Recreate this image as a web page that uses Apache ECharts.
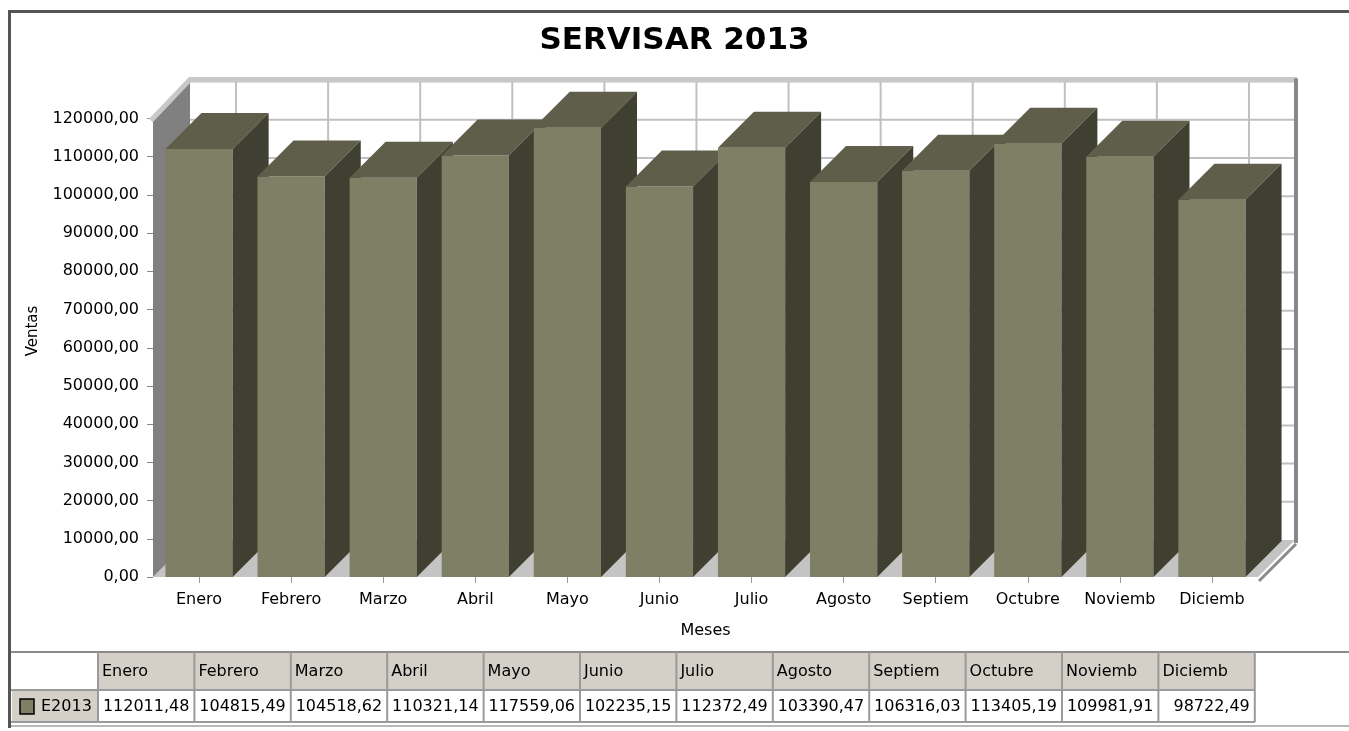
<!DOCTYPE html>
<html>
<head>
<meta charset="utf-8">
<title>SERVISAR 2013</title>
<script src="https://cdn.jsdelivr.net/npm/echarts@6/dist/echarts.min.js"></script>
<style>
  html, body { margin: 0; padding: 0; background: #fff; }
  #chart { width: 1349px; height: 731px; }
</style>
</head>
<body>
<div id="chart"></div>
<script>
  // datos
  var meses = ['Enero', 'Febrero', 'Marzo', 'Abril', 'Mayo', 'Junio', 'Julio', 'Agosto', 'Septiem', 'Octubre', 'Noviemb', 'Diciemb'];
  var ventas = [112011.48, 104815.49, 104518.62, 110321.14, 117559.06, 102235.15, 112372.49, 103390.47, 106316.03, 113405.19, 109981.91, 98722.49];
  var serieNombre = 'E2013';
  var yMin = 0, yMax = 120000, yPaso = 10000;

  var FONT = 'DejaVu Sans';
  var DEPTH = 37;      // profundidad de las paredes
  var BAR_DEPTH = 36;  // profundidad de las barras
  var colFrente = '#7f7f66', colTapa = '#5f5e4a', colLado = '#404032';

  function fmt(v) { return v.toFixed(2).replace('.', ','); }

  // caja 3d: paredes, piso y lineas de la pared del fondo
  function drawFrame(params, api) {
    var d = DEPTH;
    var p0 = api.coord([0, yMin]);
    var bw = api.size([1, 0])[0];
    var left = p0[0] - bw / 2;
    var right = left + bw * meses.length;
    var bottom = p0[1];
    var top = api.coord([0, yMax])[1];
    var ch = [];
    ch.push({ type: 'polygon', shape: { points: [[left, bottom], [right, bottom], [right + d, bottom - d], [left + d, bottom - d]] }, style: { fill: '#c4c4c4' } });
    ch.push({ type: 'polygon', shape: { points: [[left, bottom], [left, top + 1], [left + d, top - d - 2], [left + d, bottom - d]] }, style: { fill: '#808080' } });
    for (var v = yMin + yPaso; v <= yMax; v += yPaso) {
      var y = api.coord([0, v])[1] - d;
      ch.push({ type: 'line', shape: { x1: left + d, y1: y, x2: right + d, y2: y }, style: { stroke: '#c0c0c0', lineWidth: 2 } });
    }
    for (var i = 0; i < meses.length; i++) {
      var x = api.coord([i, 0])[0] + d;
      ch.push({ type: 'line', shape: { x1: x, y1: top - d - 2, x2: x, y2: bottom - d }, style: { stroke: '#c0c0c0', lineWidth: 2 } });
    }
    ch.push({ type: 'polyline', shape: { points: [[left - 2, top + 2], [left + d, top - d - 2], [right + d + 2, top - d - 2]] }, style: { stroke: '#c8c8c8', lineWidth: 5, fill: null } });
    ch.push({ type: 'line', shape: { x1: right + d + 1, y1: top - d - 3, x2: right + d + 1, y2: bottom - d + 3 }, style: { stroke: '#888', lineWidth: 4 } });
    ch.push({ type: 'line', shape: { x1: right + d + 1, y1: bottom - d + 4, x2: right + 1, y2: bottom + 4 }, style: { stroke: '#8c8c8c', lineWidth: 3 } });
    return { type: 'group', children: ch };
  }

  function drawBar(params, api) {
    var d = BAR_DEPTH;
    var base = api.coord([api.value(0), yMin]);
    var tope = api.coord([api.value(0), api.value(1)]);
    var w = api.size([1, 0])[0] * 0.73;
    var x = base[0] - w / 2, yb = base[1], yt = tope[1];
    return {
      type: 'group',
      children: [
        { type: 'rect', shape: { x: x, y: yt, width: w, height: yb - yt }, style: { fill: colFrente } },
        { type: 'polygon', shape: { points: [[x, yt], [x + w, yt], [x + w + d, yt - d], [x + d, yt - d]] }, style: { fill: colTapa } },
        { type: 'polygon', shape: { points: [[x + w, yt], [x + w + d, yt - d], [x + w + d, yb - d], [x + w, yb]] }, style: { fill: colLado } }
      ]
    };
  }

  // tabla de datos debajo del grafico
  function buildTable() {
    var g = [];
    var firstW = 88, x0 = 10, colW = 96.4, rowTop = 652, rowMid = 690, rowBot = 722;
    var colX = function (i) { return x0 + firstW + i * colW; };
    var endX = colX(meses.length);
    for (var i = 0; i < meses.length; i++) {
      g.push({ type: 'rect', shape: { x: colX(i), y: rowTop, width: colW, height: rowMid - rowTop }, style: { fill: '#d4d0c8' } });
      g.push({ type: 'text', x: colX(i) + 4, y: (rowTop + rowMid) / 2 + 1, style: { text: meses[i], font: '16px "' + FONT + '"', fill: '#000', verticalAlign: 'middle' } });
      g.push({ type: 'text', x: colX(i + 1) - 5, y: (rowMid + rowBot) / 2 + 1, style: { text: fmt(ventas[i]), font: '16px "' + FONT + '"', fill: '#000', align: 'right', verticalAlign: 'middle' } });
    }
    g.push({ type: 'rect', shape: { x: x0 + 2, y: rowMid, width: firstW - 2, height: rowBot - rowMid }, style: { fill: '#d4d0c8' } });
    g.push({ type: 'rect', shape: { x: 20, y: 699, width: 14, height: 15 }, style: { fill: colFrente, stroke: '#000', lineWidth: 1.5 } });
    g.push({ type: 'text', x: 41, y: (rowMid + rowBot) / 2 + 1, style: { text: serieNombre, font: '16px "' + FONT + '"', fill: '#000', verticalAlign: 'middle' } });
    // lineas de la tabla
    g.push({ type: 'line', shape: { x1: x0, y1: rowTop, x2: 1349, y2: rowTop }, style: { stroke: '#8a8a8a', lineWidth: 2 } });
    g.push({ type: 'line', shape: { x1: x0, y1: rowMid, x2: endX, y2: rowMid }, style: { stroke: '#9a9a9a', lineWidth: 2 } });
    g.push({ type: 'line', shape: { x1: x0, y1: rowBot, x2: endX, y2: rowBot }, style: { stroke: '#9a9a9a', lineWidth: 2 } });
    g.push({ type: 'line', shape: { x1: x0, y1: 726, x2: 1349, y2: 726 }, style: { stroke: '#b8b8b8', lineWidth: 2 } });
    for (var k = 0; k <= meses.length; k++) {
      g.push({ type: 'line', shape: { x1: colX(k), y1: rowTop, x2: colX(k), y2: rowBot }, style: { stroke: '#9a9a9a', lineWidth: 2 } });
    }
    // marco exterior
    g.push({ type: 'line', shape: { x1: 9.5, y1: 10, x2: 9.5, y2: 728 }, style: { stroke: '#555', lineWidth: 3 } });
    g.push({ type: 'line', shape: { x1: 8, y1: 11.5, x2: 1349, y2: 11.5 }, style: { stroke: '#555', lineWidth: 3 } });
    // titulo del eje y
    g.push({ type: 'text', x: 33, y: 331, rotation: Math.PI / 2, style: { text: 'Ventas', font: '15px "' + FONT + '"', fill: '#000', align: 'center', verticalAlign: 'middle' } });
    return g;
  }

  var chartDom = document.getElementById('chart');
  var myChart = echarts.init(chartDom);
  var option = {
    backgroundColor: '#fff',
    animation: false,
    title: {
      text: 'SERVISAR 2013',
      left: 'center',
      top: 20,
      textStyle: { fontFamily: FONT, fontSize: 31, fontWeight: 'bold', color: '#000' }
    },
    grid: { left: 153, right: 91, top: 118.5, bottom: 154 },
    xAxis: {
      type: 'category',
      data: meses,
      name: 'Meses',
      nameLocation: 'middle',
      nameGap: 46,
      nameTextStyle: { fontFamily: FONT, fontSize: 16, color: '#000' },
      axisLine: { show: false },
      axisTick: { show: true, alignWithLabel: true, interval: 0, length: 6, lineStyle: { color: '#999' } },
      axisLabel: { interval: 0, margin: 15, fontFamily: FONT, fontSize: 16, color: '#000' },
      splitLine: { show: false }
    },
    yAxis: {
      type: 'value',
      min: yMin,
      max: yMax,
      interval: yPaso,
      axisLine: { show: false },
      axisTick: { show: true, length: 6, lineStyle: { color: '#888' } },
      axisLabel: { margin: 14, fontFamily: FONT, fontSize: 16, color: '#000', formatter: fmt },
      splitLine: { show: false }
    },
    graphic: buildTable(),
    series: [
      {
        type: 'custom',
        z: 1,
        silent: true,
        renderItem: drawFrame,
        data: [[0, 0]]
      },
      {
        type: 'custom',
        name: serieNombre,
        z: 2,
        renderItem: drawBar,
        encode: { x: 0, y: 1 },
        data: ventas.map(function (v, i) { return [i, v]; })
      }
    ]
  };
  option && myChart.setOption(option);
</script>
</body>
</html>
